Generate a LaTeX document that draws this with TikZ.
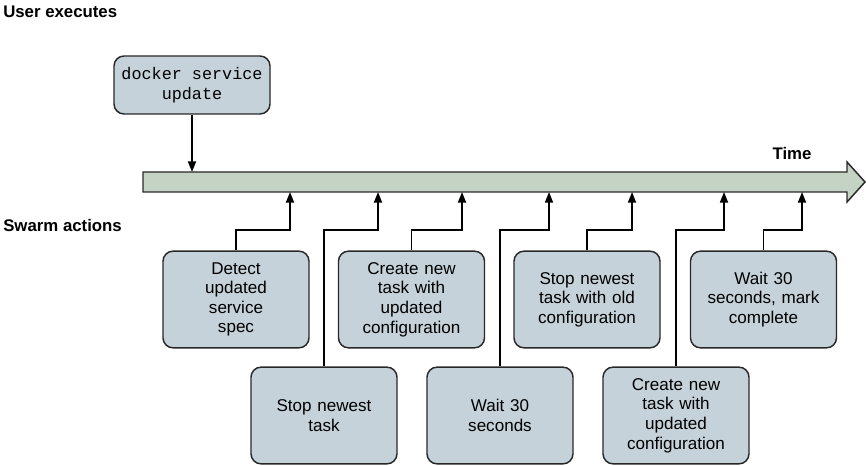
\documentclass[tikz,border=0pt]{standalone}
\usepackage{fontspec}
\setmainfont{Liberation Sans}
\setmonofont{Liberation Mono}
\usetikzlibrary{arrows.meta}
\definecolor{boxfill}{RGB}{197,210,218}
\definecolor{timefill}{RGB}{197,211,196}
\definecolor{boxline}{RGB}{40,40,40}
\tikzset{
  actbox/.style={draw=boxline, line width=1.1pt, fill=boxfill, rounded corners=7.5pt,
    minimum width=109.5pt, minimum height=72.5pt, align=center, inner sep=2pt,
    text width=100pt, font=\fontsize{12.8}{14.7}\selectfont},
  cmdbox/.style={draw=boxline, line width=1.1pt, fill=boxfill, rounded corners=7.5pt,
    minimum width=117pt, minimum height=43.5pt, align=center, inner sep=2pt,
    font=\ttfamily\fontsize{12.6}{15}\selectfont},
  conn/.style={draw=black, line width=1.3pt, -{Triangle[length=8pt,width=6pt]}},
  lbl/.style={font=\bfseries\fontsize{12.6}{15}\selectfont, inner sep=0pt},
}
\begin{document}
\begin{tikzpicture}[x=0.75pt,y=-0.75pt]
\useasboundingbox (0,0) rectangle (866,466);
% labels
\node[lbl, anchor=west] (ue) at (3,12) {User executes};
\node[lbl, anchor=west] (sa) at (3,225) {Swarm actions};
\node[lbl] (time) at (792,153) {Time};
% timeline
\draw[draw=boxline, line width=1.1pt, fill=timefill]
  (143,172) -- (847,172) -- (847,162) -- (865,182) -- (847,202) -- (847,192) -- (143,192) -- cycle;
\coordinate (t0) at (192,172);
\coordinate (t1) at (290,192);
\coordinate (t2) at (378,192);
\coordinate (t3) at (462,192);
\coordinate (t4) at (549,192);
\coordinate (t5) at (632,192);
\coordinate (t6) at (724,192);
\coordinate (t7) at (802,192);
\coordinate (k1) at (290,230);
\coordinate (k2) at (378,230);
\coordinate (k3) at (462,230);
\coordinate (k4) at (549,230);
\coordinate (k5) at (632,230);
\coordinate (k6) at (724,230);
\coordinate (k7) at (802,230);
% command box
\node[cmdbox] (cmd) at (192,85) {docker service\\update};
\draw[conn] (cmd.south) -- (t0);
% action boxes
\node[actbox] (b1) at (236,299.5) {Detect\\updated\\service\\spec};
\node[actbox] (b2) at (324,415.5) {Stop newest\\task};
\node[actbox] (b3) at (411.5,299.5) {Create new\\task with\\updated\\configuration};
\node[actbox] (b4) at (500,415.5) {Wait 30\\seconds};
\node[actbox] (b5) at (587,299.5) {Stop newest\\task with old\\configuration};
\node[actbox] (b6) at (676,415.5) {Create new\\task with\\updated\\configuration};
\node[actbox] (b7) at (763.5,299.5) {Wait 30\\seconds, mark\\complete};
% connectors
\draw[conn] (b1.north) |- (k1) -- (t1);
\draw[conn] (b2.north) |- (k2) -- (t2);
\draw[conn] (b3.north) |- (k3) -- (t3);
\draw[conn] (b4.north) |- (k4) -- (t4);
\draw[conn] (b5.north) |- (k5) -- (t5);
\draw[conn] (b6.north) |- (k6) -- (t6);
\draw[conn] (b7.north) |- (k7) -- (t7);
\end{tikzpicture}
\end{document}
